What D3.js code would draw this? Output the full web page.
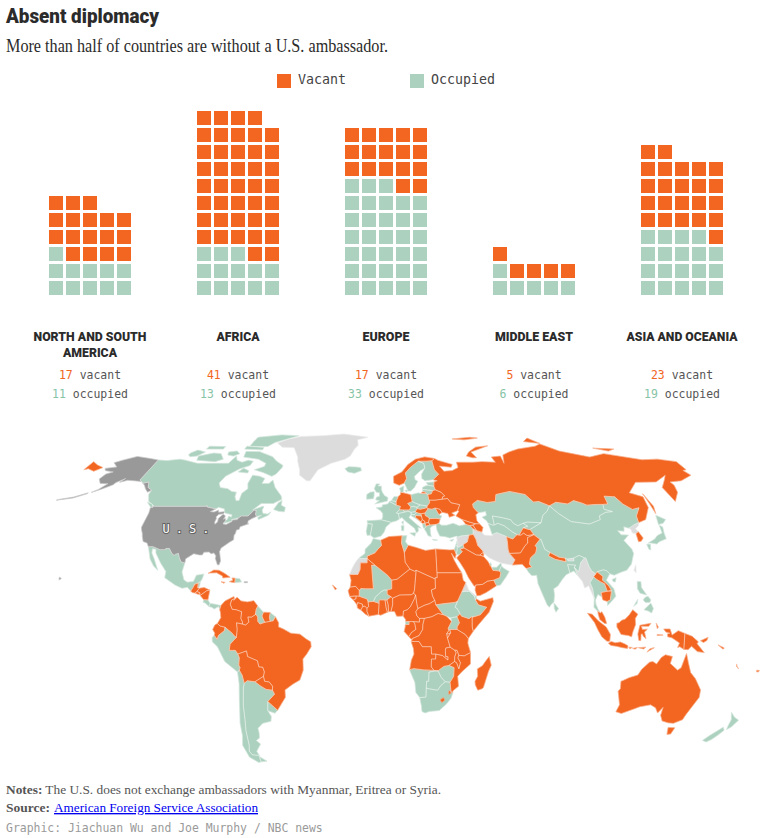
<!DOCTYPE html>
<html>
<head>
<meta charset="utf-8">
<title>Absent diplomacy</title>
<script src="https://cdn.jsdelivr.net/npm/d3@7"></script>
<style>
  html, body { margin: 0; background: #fff; }
  svg { display: block; }
</style>
</head>
<body>
<script>
// ---- Waffle data -------------------------------------------------------
const regions = [["NORTH AND SOUTH", "AMERICA"], ["AFRICA"], ["EUROPE"], ["MIDDLE EAST"], ["ASIA AND OCEANIA"]];
const vacantCounts = [17, 41, 17, 5, 23];
const occupiedCounts = [11, 13, 33, 6, 19];
const legendLabels = ["Vacant", "Occupied"];

// ---- Map data: outlines as [longitude, latitude] rings, by status ------
const vacantLands = [
  ["Cuba", [[-85,21.8],[-82.5,23.1],[-80,23],[-77,21.7],[-74.2,20.2],[-77.7,19.9],[-78,20.7],[-81,22],[-84,21.9]]],
  ["Jamaica", [[-78.3,18.4],[-76.3,18.1],[-77,17.8]]],
  ["Haiti", [[-74.4,18.4],[-71.7,18],[-71.7,19.8],[-73.3,19.9],[-72.7,19]]],
  ["Guatemala", [[-92.2,14.6],[-90.9,16.8],[-91,17.2],[-89.1,17.9],[-89.1,16],[-88.3,15.7],[-89.2,14.6],[-90.1,13.8],[-91.5,14]]],
  ["El Salvador", [[-90.1,13.8],[-89.2,14.4],[-87.8,13.9],[-87.8,13.2],[-89,13.4]]],
  ["Honduras", [[-89.2,14.6],[-88.3,15.7],[-86,16],[-83.2,15],[-84.7,14.7],[-87.3,13],[-87.8,13.2],[-87.8,13.9],[-89.2,14.4]]],
  ["Nicaragua", [[-87.3,13],[-84.7,14.7],[-83.2,15],[-83.7,11],[-85.7,11.1],[-87.6,12.9]]],
  ["Colombia", [[-77.4,8.7],[-75.6,10.6],[-74,11.3],[-71.5,12.4],[-71.2,11.5],[-72.5,11],[-73,9.2],[-72,7.2],[-70,7],[-67.5,6.2],[-67.8,3.5],[-67,2],[-67,1.2],[-69.8,1.7],[-69.5,-1],[-69.9,-4.2],[-70.7,-3.8],[-72,-2.4],[-75.2,-0.1],[-77.5,0.4],[-78.8,1.4],[-77.2,3.8],[-77.5,6],[-77.9,7.2]]],
  ["Venezuela", [[-71.2,11.5],[-71.5,10.8],[-70,12.1],[-68,10.6],[-65,10.2],[-62,10.7],[-60,8.5],[-60.7,7.2],[-61,5.2],[-60.7,5.2],[-62.8,4],[-64.5,4.1],[-64,2],[-65.5,0.8],[-67,1.2],[-67,2],[-67.8,3.5],[-67.5,6.2],[-70,7],[-72,7.2],[-73,9.2],[-72.5,11]]],
  ["Suriname", [[-57.2,6],[-54,5.9],[-54.4,4],[-54,2.3],[-56.5,1.9],[-57.3,3.3],[-57.9,4.5]]],
  ["Ecuador", [[-80,0.8],[-78.8,1.4],[-77.5,0.4],[-75.2,-0.1],[-75.5,-1.5],[-78.3,-3.4],[-79,-5],[-80.3,-3.4],[-80,-2.5],[-81,-1]]],
  ["Bolivia", [[-69.6,-11],[-65.4,-9.7],[-65,-12],[-60.5,-13.7],[-60,-16.2],[-58.2,-16.3],[-57.6,-18.2],[-58.2,-20],[-62.6,-22.2],[-64.5,-22],[-66.2,-21.8],[-67.8,-22.8],[-68.4,-19.5],[-69.5,-17.5],[-69,-16.5],[-69.5,-15.5],[-69,-12.5]]],
  ["Paraguay", [[-58.2,-20],[-57.9,-22],[-55.7,-22.3],[-54.3,-24],[-54.6,-25.6],[-57.6,-25.3],[-60,-24],[-62.6,-22.2]]],
  ["Brazil", [[-51.6,4.2],[-50,1.7],[-50,0],[-48,-0.7],[-44.3,-2.5],[-40,-2.9],[-37.2,-4.8],[-35,-6],[-34.8,-8],[-37,-11],[-38.9,-13],[-39,-17.5],[-40.9,-21.5],[-44.5,-23.2],[-48.5,-25.5],[-48.7,-28.5],[-52,-32.2],[-53.4,-33.7],[-57.6,-30.2],[-53.8,-27.2],[-54.6,-25.6],[-54.3,-24],[-55.7,-22.3],[-57.9,-22],[-58.2,-20],[-57.6,-18.2],[-58.2,-16.3],[-60,-16.2],[-60.5,-13.7],[-65,-12],[-65.4,-9.7],[-69.6,-11],[-70.6,-9.5],[-73.5,-9.5],[-73,-7],[-69.9,-4.2],[-69.5,-1],[-69.8,1.7],[-67,1.2],[-65.5,0.8],[-64,2],[-64.5,4.1],[-62.8,4],[-60.7,5.2],[-59.9,4],[-59.8,2.3],[-58.8,1.2],[-56.5,1.9],[-54,2.3],[-52.6,2.5]]],
  ["Algeria", [[-2.2,35.1],[2,36.6],[8.6,36.9],[8.2,34],[9.5,30.2],[9.8,26.2],[12,23.5],[5.8,19.4],[3.2,19],[1.2,21],[-4.8,25],[-8.7,27.7],[-8.7,28.7],[-5,30],[-3.5,31.5],[-1.7,33]]],
  ["Libya", [[11.5,33.1],[15,32.3],[20,31],[25,31.6],[25,22],[25,20],[24,20],[24,19.5],[15,23],[14.2,22.6],[12,23.5],[9.8,26.2],[9.5,30.2]]],
  ["Egypt", [[25,31.6],[32,31.2],[34.2,31.3],[34.9,29.5],[34.2,27.8],[32.6,29.9],[33.7,27],[35.5,24],[36.9,22],[25,22]]],
  ["Sudan", [[25,22],[36.9,22],[37.4,19],[38.6,18],[36.5,14.3],[34.3,10.5],[33,10],[28,9.5],[24,9],[23.5,10.8],[22.5,12.6],[22,15],[24,15.7],[24,20],[25,20]]],
  ["Somalia", [[43.1,11.5],[45,10.5],[51,11.9],[51.2,10.4],[49,6],[44,1],[41.5,-1.7],[41,0],[41,3.9],[42,4.2],[44.9,5],[47.9,8],[44,9],[42.8,10.9]]],
  ["Kenya", [[35.3,5.4],[36,4.4],[39.5,3.4],[40.8,4.2],[41,3.9],[41,0],[41.5,-1.7],[39.2,-4.7],[37.7,-3],[33.9,-1],[33.9,0.1],[35,1.7],[33.9,4.2]]],
  ["Tanzania", [[33.9,-1],[37.7,-3],[39.2,-4.7],[39,-6.5],[39.5,-8],[40.4,-10.4],[37.5,-11.7],[34.9,-11.5],[34,-9.5],[32.9,-9.4],[30.7,-8.2],[29.4,-4.5],[30.8,-2.4],[30.5,-1]]],
  ["Rwanda", [[29,-2.7],[30,-1.4],[30.5,-1],[30.8,-2.4],[29.7,-2.8]]],
  ["Burundi", [[29,-2.7],[29.7,-2.8],[30.8,-2.4],[29.4,-4.5]]],
  ["DR Congo", [[12.3,-5.9],[13.1,-4.6],[16,-3.5],[17.7,-1],[17.8,1],[18.5,3.5],[22,4.2],[25,5.5],[27.4,5],[29,4.4],[31.3,2.2],[29.7,-0.5],[30,-1.4],[29,-2.7],[29.4,-4.5],[30.7,-8.2],[28.7,-8.5],[28.5,-9.5],[28.7,-12],[29.8,-12.1],[29.8,-13.4],[27.2,-11.6],[24,-11],[22,-11],[21.8,-8],[17.6,-8],[16,-5.9]]],
  ["Angola", [[11.8,-17.3],[13.7,-16.9],[18.4,-17.4],[23.4,-17.6],[22,-16.2],[22,-13],[24,-13],[24,-11],[22,-11],[21.8,-8],[17.6,-8],[16,-5.9],[12.3,-5.9],[13.4,-8.7],[13.7,-11],[12.5,-13.5]]],
  ["Zambia", [[22,-13],[22,-16.2],[23.4,-17.6],[25.3,-17.8],[28,-16],[30.4,-15.6],[33,-14],[33,-12],[33.6,-10.5],[32.9,-9.4],[30.7,-8.2],[28.7,-8.5],[28.5,-9.5],[28.7,-12],[29.8,-12.1],[29.8,-13.4],[27.2,-11.6],[24,-11],[24,-13]]],
  ["Malawi", [[32.9,-9.4],[34,-9.5],[34.9,-11.5],[34.5,-12.5],[35.8,-14.5],[35.2,-17],[34,-14.5],[33,-14],[33,-12],[33.6,-10.5]]],
  ["Mozambique", [[40.4,-10.4],[40.6,-15],[36.9,-18],[34.8,-20],[35.5,-24],[32.9,-25.9],[32.9,-26.8],[32,-26],[31.9,-25.4],[31.3,-22.4],[32.9,-20],[32.9,-16.5],[30.4,-15.6],[33,-14],[34,-14.5],[35.2,-17],[35.8,-14.5],[34.5,-12.5],[34.9,-11.5],[37.5,-11.7]]],
  ["Lesotho", [[27,-29.6],[28.5,-28.6],[29.4,-29.6],[28,-30.6]]],
  ["Eswatini", [[31,-25.8],[32,-26],[32,-27],[31,-27.2]]],
  ["Congo", [[11.2,-3.9],[12.3,-5],[13.1,-4.6],[16,-3.5],[17.7,-1],[17.8,1],[18.5,3.5],[16.2,3.5],[16.2,2],[13.3,2.2],[14,1.3],[14.5,-1],[12.5,-2.2]]],
  ["Gabon", [[9.6,1],[11.3,1],[11.3,2.2],[13.3,2.2],[14,1.3],[14.5,-1],[12.5,-2.2],[11.2,-3.9],[9,-1.8],[9.5,0]]],
  ["Cameroon", [[8.5,4.5],[9.7,3],[9.7,2.2],[11.3,2.2],[13.3,2.2],[16.2,2],[16.2,3.5],[15,4.5],[14.5,6.2],[15.5,7.5],[15,9.5],[14.5,13],[13.9,11.5],[12,8.3],[10.5,7],[8.7,6.5]]],
  ["Central African Republic", [[14.5,6.2],[15,4.5],[16.2,3.5],[18.5,3.5],[22,4.2],[25,5.5],[27.4,5],[24,9],[23.5,10.8],[21,9.5],[18.5,8.8],[15.5,7.5]]],
  ["Chad", [[15.5,7.5],[18.5,8.8],[21,9.5],[23.5,10.8],[22.5,12.6],[22,15],[24,15.7],[24,19.5],[15,23],[14,15],[13.5,13.7],[14.5,13],[15,9.5]]],
  ["Niger", [[12,23.5],[14.2,22.6],[15,23],[14,15],[13.5,13.7],[12.5,13.1],[7,13],[3.6,11.7],[2.8,12.3],[1,13.3],[1,15],[3.2,15.5],[3.2,19],[5.8,19.4]]],
  ["Nigeria", [[2.8,6.3],[4.5,6.3],[5.5,4.4],[7,4.4],[8.5,4.5],[8.7,6.5],[10.5,7],[12,8.3],[13.9,11.5],[14.5,13],[13.5,13.7],[12.5,13.1],[7,13],[3.6,11.7],[3.6,9]]],
  ["Mauritania", [[-17,21.3],[-13,21.3],[-12,23.4],[-12,26],[-8.7,26],[-8.7,27.7],[-4.8,25],[-6.5,25],[-5.5,15.5],[-9.3,15.5],[-11.5,15.6],[-12.2,14.8],[-14,16.5],[-16.5,16.2],[-16.2,19]]],
  ["Senegal", [[-16.5,16.2],[-14,16.5],[-12.2,14.8],[-12.2,12.5],[-13.7,12.6],[-16.7,12.4],[-17.5,14.7]]],
  ["Guinea-Bissau", [[-16.7,12.4],[-13.7,12.6],[-13.7,11.5],[-15,11]]],
  ["Guinea", [[-13.7,12.6],[-12.2,12.5],[-11.3,12.2],[-8.5,11.4],[-8,10.2],[-7.7,8.4],[-8.5,7.6],[-9.5,8.5],[-10.5,8.3],[-10.7,9.3],[-12.9,9.9],[-13.2,9],[-15,11],[-13.7,11.5]]],
  ["Sierra Leone", [[-13.2,9],[-12.9,9.9],[-10.7,9.3],[-10.5,8.3],[-11.4,6.9],[-13,7.7]]],
  ["Liberia", [[-11.4,6.9],[-10.5,8.3],[-9.5,8.5],[-8.5,7.6],[-8.5,6.3],[-7.6,4.4],[-9.2,5.2]]],
  ["Cote d'Ivoire", [[-8.5,7.6],[-7.7,8.4],[-8,10.2],[-5.5,10.4],[-2.8,9.6],[-3.1,5.1],[-7.6,4.4],[-8.5,6.3]]],
  ["Ghana", [[-2.8,11],[0,11],[0.5,8],[1.1,6],[-2,4.8],[-3.1,5.1],[-2.8,9.6]]],
  ["Togo", [[0,11],[0.9,11],[1.5,9],[1.7,6.2],[1.1,6],[0.5,8]]],
  ["Benin", [[0.9,11],[2.8,12.3],[3.6,11.7],[3.6,9],[2.8,6.3],[1.7,6.2],[1.5,9]]],
  ["Madagascar", [[49.3,-12],[50.5,-15.5],[49.4,-18],[47.6,-24.5],[47,-25],[45,-25.6],[43.6,-23.5],[43.3,-22],[44.4,-20],[44,-17],[46.3,-15.7],[48,-13.5]]],
  ["Cabo Verde", [[-25,17],[-23,15.6],[-23.6,15]]],
  ["Germany", [[7.1,53],[8.5,54],[8.7,55],[10,54.8],[14.2,53.9],[14.7,51],[12.2,50.2],[13.7,48.7],[13,47.5],[9.6,47.5],[7.6,47.6],[8.2,49],[6,49.5],[6,51]]],
  ["Norway", [[5,59],[5,62],[10,64],[14,67.5],[19,70],[25,71.1],[31,70.3],[29,69.2],[25.5,69],[20.5,69],[15.5,66.2],[12,63.5],[12.5,61],[11,59],[8,58]]],
  ["Belarus", [[23.7,52],[23.5,54],[25.5,54.3],[26.5,55.7],[28,56],[31,55],[32.7,53.4],[31.5,53],[31,52],[27,51.6],[24,51.6]]],
  ["Ukraine", [[24,50.5],[24,51.6],[27,51.6],[31,52],[34,52.3],[35.5,50.5],[40,49.7],[38.3,47.2],[35,46.2],[36.5,45.3],[33.5,44.5],[33,46],[30.7,46.4],[30,46.5],[29,47.8],[26.6,48.3],[24.9,47.8],[22.9,48],[22.2,48.4],[22.5,49.1]]],
  ["Moldova", [[26.6,48.3],[29,47.8],[30,46.5],[28.2,45.5]]],
  ["Hungary", [[16,46.8],[17,48],[18.8,47.8],[22.2,48.4],[22.9,48],[21,46.2],[18.8,45.9],[16.5,46.4]]],
  ["Bosnia", [[16,45.2],[19,45],[19.3,43.5],[18.5,42.5],[15.8,44.5]]],
  ["Serbia", [[18.8,45.9],[21,46.2],[21,45.2],[22.5,44.5],[23,43.9],[22.4,42.4],[20.5,42],[20.5,42.8],[19.3,43.5],[19,45]]],
  ["Montenegro", [[18.5,42.5],[19.3,43.5],[20.5,42.8],[20.5,42],[19.3,41.9]]],
  ["North Macedonia", [[20.5,42],[22.4,42.4],[23,41.3],[21,40.8]]],
  ["Bulgaria", [[23,43.9],[26.5,44],[28.6,43.8],[27.7,42],[26.2,41.5],[23,41.3],[22.4,42.4]]],
  ["Georgia", [[40,43.5],[43.5,42.5],[46.5,41.8],[45,41.3],[43.5,41],[41.5,41.5]]],
  ["Armenia", [[43.5,41],[45,41.3],[46.5,39],[44.8,39.7]]],
  ["Azerbaijan", [[46.5,41.8],[48.5,41.8],[50,40.3],[49,38.4],[46.5,39],[45,41.3]]],
  ["Russia", [[31,70.3],[33,69.4],[41,67.5],[40,66.2],[33,66.7],[35,64.3],[40,64.6],[44,66],[44,68.5],[54,68.5],[60,68.8],[68,68.5],[67,71],[73,71.5],[73,68],[75,72],[80,73.5],[87,75],[100,76.5],[104.5,77.7],[113,74],[129,71],[140,72.7],[160,69.7],[170,70],[179.9,68.8],[179.9,65],[177.5,64.7],[179,62.5],[170,60],[163,59.5],[163.5,58],[162,55],[156.7,51],[155.7,57],[161,60.5],[164,62.5],[155,59.5],[143,59.3],[135,54.7],[141,53],[140,48.5],[135,43.5],[130.7,42.3],[130.7,43],[131.2,45],[135,48.4],[131,47.7],[127.5,50],[125.5,53],[120,53.3],[119.5,50],[116.7,49.8],[113,49.8],[108,49.5],[106,50.3],[102,51.4],[98,50],[92,50.7],[87.8,49.2],[83,51],[80,50.8],[77,54],[71,55],[69,55.3],[61,54],[59.5,51],[55,50.6],[50,51.5],[47,50],[47,48.5],[49,46.3],[47.5,45.5],[47.5,43],[48.5,41.8],[46.5,41.8],[43.5,42.5],[40,43.5],[37,45],[39,47],[38.3,47.2],[40,49.7],[35.5,50.5],[34,52.3],[31,52],[31.5,53],[32.7,53.4],[31,55],[28,56],[27.5,57.6],[28,59.5],[30,60],[27.7,60.5],[31.5,62.9],[29.5,65],[29,69.2]]],
  ["Chukotka", [[-179.9,65],[-178,65.5],[-173,64.3],[-170,66],[-175,67.2],[-179.9,68.8]]],
  ["Kaliningrad", [[19.7,54.4],[22.8,54.4],[22.5,55],[21,55.2]]],
  ["Sakhalin", [[142,54.3],[143.2,49],[142,46],[142,50]]],
  ["Novaya Zemlya", [[51.5,71.5],[55,70.7],[57.5,70.7],[55.5,73.5],[68.5,76.7],[60,76],[54,73.5]]],
  ["Franz Josef Land", [[47,80.5],[60,81.5],[65,81],[55,80]]],
  ["Severnaya Zemlya", [[95,79],[105,78],[100,81]]],
  ["New Siberian Islands", [[137,75.5],[150,75],[145,74]]],
  ["Iraq", [[42.3,37.2],[44.5,37.5],[45.5,35.5],[46,33],[48,31],[48.5,29.9],[47.7,30],[46.5,29.1],[44.7,29.2],[39,32],[38.8,33.4],[41,34.4]]],
  ["Kuwait", [[47.7,30],[48.5,29.9],[48.2,28.6],[46.5,29.1]]],
  ["Saudi Arabia", [[36.5,29.3],[38,30.5],[37,31.5],[39,32],[44.7,29.2],[46.5,29.1],[48.2,28.6],[50,26.6],[51.2,24.6],[52,23],[55,22.7],[55.7,22],[55,20],[52,19],[49,18.6],[46.5,17.3],[43.2,17],[42.5,16.5],[40,20],[38.5,23],[36.5,26],[35,28]]],
  ["Yemen", [[43.2,17],[46.5,17.3],[49,18.6],[52,19],[53.1,16.7],[48,14],[45,12.8],[43.5,12.7],[42.8,15]]],
  ["Tajikistan", [[67.5,37.2],[70.5,40.2],[73,39.5],[73.8,39.5],[75,37.4],[71.5,37],[70,38],[68.5,37.2]]],
  ["Afghanistan", [[61,34.5],[61,36.6],[64,35.6],[66.5,37.4],[67.5,37.2],[68.5,37.2],[70,38],[71.5,37],[75,37.4],[71.5,36.2],[71,34],[69.5,33],[66.5,30],[61,29.8],[60.7,31.5]]],
  ["Pakistan", [[61,29.8],[66.5,30],[69.5,33],[71,34],[71.5,36.2],[75,37.4],[77.5,35.5],[74.5,33],[75,32],[74,30],[71,28],[70,25.5],[71,24.3],[68.2,23.7],[66.5,25.4],[61.6,25.1],[63.3,27.2]]],
  ["Nepal", [[80,28.8],[81,30.2],[85,28.3],[88,27.9],[88,26.4],[83,27.4]]],
  ["South Korea", [[126.7,37.8],[128.3,38.6],[129.4,36],[127.8,34.7],[126.4,34.5],[126.6,37]]],
  ["Laos", [[101.2,21.5],[102,22.4],[104.5,20.5],[104,19],[106.5,16.8],[107.5,15],[105.5,14.5],[104.7,17.5],[103,18.3],[101,19.5],[100,20.4]]],
  ["Cambodia", [[102.5,14],[105.5,14.5],[107.5,14.5],[106.5,11],[105,10.4],[103,11],[102.7,12.2]]],
  ["Peninsular Malaysia", [[100.2,6.4],[101.5,5.8],[102.1,6.2],[103.4,4],[104.2,1.4],[103.3,1.4],[101,3],[100.4,5]]],
  ["Sumatra", [[95.3,5.6],[97.5,5.2],[100.3,2.5],[104,0],[106,-3],[105.8,-5.8],[104.5,-5.8],[102,-4],[100,-1],[98.5,1.8]]],
  ["Java", [[105.2,-6.6],[106.5,-5.9],[108.5,-6.4],[110.8,-6.1],[112.8,-6.8],[114.5,-7.6],[114.4,-8.7],[112,-8.4],[109,-7.8],[106.5,-7.5]]],
  ["Bali and Lombok", [[115,-8.2],[116.6,-8.3],[115.5,-8.8]]],
  ["Borneo", [[109,1.5],[110,1.7],[111.3,2.7],[113,3.2],[115,5],[116.7,7],[119,5.2],[117.7,3.5],[117.8,1],[116.5,-2],[116,-4],[114.5,-3.5],[111,-3],[110,-1.5],[109,0]]],
  ["Sulawesi", [[119.8,0.7],[125,1.5],[124,0.3],[120.5,0.3],[121,-1],[123.3,-0.9],[122,-2],[122.8,-4.8],[121.5,-3.8],[121,-2.8],[120.4,-2.9],[120.4,-5.5],[119.5,-5.5],[118.9,-2.8]]],
  ["Western New Guinea", [[131,-0.8],[134,-0.8],[135,-3.3],[137.9,-1.5],[141,-2.6],[141,-9.1],[139,-8],[138,-8.3],[138.7,-6.5],[135,-4.4],[133,-4],[132.8,-2.8],[134,-2.5],[132,-2]]],
  ["Papua New Guinea", [[141,-2.6],[144.5,-3.8],[147.5,-6],[147,-6.8],[150.8,-10.4],[147.5,-10],[144.5,-7.8],[143,-9.2],[141,-9.1]]],
  ["New Britain", [[148.5,-5.6],[152,-4.2],[151.5,-5.5],[150,-6.3]]],
  ["Solomon Islands", [[157,-7.3],[160,-8.5],[159.5,-9]]],
  ["Timor", [[123.7,-10.2],[127,-8.4],[125,-8.8]]],
  ["Flores", [[119.5,-8.4],[123,-8.2],[122,-8.9]]],
  ["Sumbawa", [[116.8,-8.7],[119,-8.3],[118,-9]]],
  ["Halmahera", [[127.5,1.5],[128.5,0],[128,-0.7]]],
  ["Seram", [[128,-3],[130.8,-3.3],[128,-3.5]]],
  ["Vanuatu", [[167,-15],[167.5,-16],[168.5,-17],[167.2,-16]]],
  ["Fiji", [[177.3,-17.5],[178.6,-17.7],[178.2,-18.3],[177.3,-18.1]]],
  ["Australia", [[113.5,-22],[114.2,-21.8],[117,-20.6],[121,-19.5],[122.3,-17.2],[125.5,-14.3],[127,-14],[129,-15],[130.8,-12.4],[132.6,-11.3],[136,-12],[135.5,-14.8],[139.5,-17.5],[141,-16.5],[142.5,-10.8],[144,-14.5],[146,-18.5],[149,-21],[153,-25.5],[153.6,-28.5],[150.5,-35.5],[150,-37.5],[146.3,-39],[143.5,-38.8],[140,-38],[138,-35.7],[137.7,-32.5],[136,-34.8],[134,-32.7],[131,-31.5],[126,-32.3],[124,-33],[118,-35],[115,-34.3],[115.7,-31.5],[113.2,-26],[114,-25]]],
  ["Tasmania", [[144.7,-40.7],[148.2,-40.8],[147.8,-43.3],[146,-43.5]]]
];

const occupiedLands = [
  ["Canada", [[-141,69.6],[-135,69.3],[-128,70],[-124,69.5],[-115,68],[-108,68],[-100,68],[-96,68],[-94,71.5],[-92,69.5],[-88,68.5],[-85,69.5],[-81.5,69],[-82,67],[-87,65.5],[-93,62],[-94.5,59],[-92.5,57],[-88,56.5],[-85,55.3],[-82.3,55],[-82,53],[-80.5,51.3],[-79,51.5],[-79,54.5],[-76.7,56.5],[-78,58.8],[-77.5,62.5],[-73,62],[-69.5,61],[-70,58.8],[-66,58.8],[-64.5,60.3],[-61.7,57],[-57,53.5],[-56,52],[-60,50.2],[-66.5,50.2],[-70,47.5],[-65,49],[-64.5,48.8],[-65,47.5],[-64,46],[-61.5,45.8],[-60,46.7],[-61,45.3],[-65.5,43.6],[-66.2,44.3],[-64.5,45.3],[-67,44.8],[-67.8,45.7],[-68,47.3],[-69.2,47.4],[-70.3,46.2],[-71.5,45],[-75,45],[-76.2,44.2],[-79.5,43.6],[-79,42.9],[-83,42],[-82.4,43],[-81.7,43.5],[-81.5,45],[-80,44.5],[-80,45.5],[-84,46.2],[-84.8,47],[-85,47.9],[-88.5,48.6],[-89.6,48],[-92,48.3],[-94.6,48.7],[-95.2,49.4],[-95.2,49],[-123,49],[-125,50],[-127.5,51],[-130,54],[-130,55.9],[-133,57],[-135,59.5],[-137.5,58.9],[-141,60.3]]],
  ["Baffin Island", [[-62,66],[-64,63],[-66,62],[-72,63.7],[-78,65],[-73,66.5],[-73,68],[-79,70],[-89,71],[-90,73.8],[-81,73.7],[-77,72.7],[-71,71.2],[-67,69],[-62,67]]],
  ["Victoria Island", [[-117,69.5],[-105,68.8],[-101,70],[-105,72.7],[-110,73],[-118,71.5]]],
  ["Banks Island", [[-125,72],[-123,71.2],[-119,71.5],[-116,73.5],[-122,74.5],[-125,73]]],
  ["Ellesmere Island", [[-90,76.5],[-78,76.3],[-75,78.5],[-65,81.5],[-62,82.5],[-75,83],[-90,81.5],[-90,79]]],
  ["Devon Island", [[-92,75],[-80,74.6],[-80,75.8],[-92,76.5]]],
  ["Melville Island", [[-117,75],[-106,75],[-106,76.3],[-117,76.5]]],
  ["Prince of Wales Island", [[-100,72],[-96,71.5],[-93,72.7],[-96,74],[-101,73.5]]],
  ["Southampton Island", [[-87,64],[-81,63.5],[-81,64.5],[-85,65.7]]],
  ["Newfoundland", [[-59,47.7],[-56,46.9],[-53,46.7],[-53,48.5],[-55.5,49.5],[-55.7,51.5],[-57.3,50.5]]],
  ["Vancouver Island", [[-128,50.7],[-125,50],[-123.4,48.4],[-125,48.8]]],
  ["Iceland", [[-24,65.5],[-22,64],[-18,63.4],[-14,64.6],[-14.7,66],[-18,66.3],[-22,66.4]]],
  ["Mexico", [[-117.1,32.5],[-114.8,32.5],[-111,31.3],[-108.2,31.3],[-108.2,31.8],[-106.5,31.8],[-104.5,29.7],[-103.2,29],[-102.8,29.4],[-101.4,29.8],[-100.5,28.2],[-99.2,26.4],[-97.2,25.9],[-97.7,22.3],[-96.2,19.2],[-94.5,18.2],[-91.5,18.5],[-90.5,21],[-87,21.5],[-87.5,19.5],[-88.2,18.4],[-89.1,17.9],[-91,17.2],[-90.9,16.8],[-92.2,14.6],[-94,16.1],[-96.5,15.7],[-100,17],[-105.5,20],[-105.5,22.5],[-109,26],[-112.5,30],[-113,31.5],[-114.8,31.7],[-114.5,30],[-112.5,27.5],[-110.5,24.5],[-109.5,23],[-112,24.7],[-114.5,27.5],[-116,30.5]]],
  ["Belize", [[-89.1,17.9],[-88.2,18.4],[-88.3,16.5],[-89.1,16]]],
  ["Costa Rica", [[-85.7,11.1],[-83.7,11],[-82.6,9.6],[-83,8.3],[-85,9.8],[-85.9,10]]],
  ["Panama", [[-83,8.3],[-82.6,9.6],[-80,9.2],[-77.4,8.7],[-77.9,7.2],[-78.5,8.3],[-80.5,7.3],[-81.7,8]]],
  ["Dominican Republic", [[-71.7,18],[-68.5,18.3],[-69.5,19.6],[-71.7,19.8]]],
  ["Guyana", [[-60,8.5],[-57.2,6],[-57.9,4.5],[-57.3,3.3],[-56.5,1.9],[-58.8,1.2],[-59.8,2.3],[-59.9,4],[-60.7,5.2],[-61,5.2],[-60.7,7.2]]],
  ["French Guiana", [[-54,5.9],[-51.6,4.2],[-52.6,2.5],[-54,2.3],[-54.4,4]]],
  ["Peru", [[-80.3,-3.4],[-79,-5],[-78.3,-3.4],[-75.5,-1.5],[-75.2,-0.1],[-72,-2.4],[-70.7,-3.8],[-69.9,-4.2],[-73,-7],[-73.5,-9.5],[-70.6,-9.5],[-69.6,-11],[-69,-12.5],[-69.5,-15.5],[-69,-16.5],[-69.5,-17.5],[-70.4,-18.3],[-76,-14],[-79,-8],[-81.3,-6],[-81.3,-4.3]]],
  ["Chile", [[-70.4,-18.3],[-69.5,-17.5],[-68.4,-19.5],[-67.8,-22.8],[-68.5,-24.5],[-70,-32],[-70.5,-37],[-71.5,-42],[-72,-48],[-73,-50.5],[-72,-52],[-68.4,-52.3],[-68.6,-55],[-70,-55.3],[-74,-53],[-75.5,-48],[-74,-44],[-73.5,-39],[-71.5,-30],[-70.3,-23]]],
  ["Argentina", [[-66.2,-21.8],[-64.5,-22],[-62.6,-22.2],[-60,-24],[-57.6,-25.3],[-54.6,-25.6],[-53.8,-27.2],[-57.6,-30.2],[-58.3,-33.9],[-57,-36.2],[-57.7,-38.2],[-62,-39],[-65,-41],[-65,-43],[-65.5,-45],[-67.5,-46],[-65.8,-47.5],[-69,-50.5],[-68.4,-52.3],[-72,-52],[-73,-50.5],[-72,-48],[-71.5,-42],[-70.5,-37],[-70,-32],[-68.5,-24.5],[-67.8,-22.8]]],
  ["Tierra del Fuego", [[-68.6,-52.7],[-65.2,-54.7],[-68.6,-55]]],
  ["Uruguay", [[-57.6,-30.2],[-53.4,-33.7],[-54.9,-34.9],[-58.3,-33.9]]],
  ["Morocco", [[-5.9,35.8],[-2.2,35.1],[-1.7,33],[-3.5,31.5],[-5,30],[-8.7,28.7],[-8.7,27.7],[-13,27.7],[-9.8,29.8],[-9.8,31.5],[-7,33.8]]],
  ["Tunisia", [[8.6,36.9],[11,37],[10.2,34.5],[11.5,33.1],[9.5,30.2],[8.2,34]]],
  ["Ethiopia", [[36.5,14.3],[37.5,14.4],[40,14.5],[42.3,12.5],[42.8,10.9],[44,9],[47.9,8],[44.9,5],[42,4.2],[40.8,4.2],[39.5,3.4],[36,4.4],[35.3,5.4],[34,7.5],[33,8],[34.3,10.5]]],
  ["Djibouti", [[42.3,12.5],[43.3,12.5],[43.1,11.5],[42.8,10.9]]],
  ["South Sudan", [[24,9],[28,9.5],[33,10],[34.3,10.5],[33,8],[34,7.5],[35.3,5.4],[33.9,4.2],[31,3.7],[29,4.4],[27.4,5]]],
  ["Uganda", [[31,3.7],[33.9,4.2],[35,1.7],[33.9,0.1],[33.9,-1],[30.5,-1],[30,-1.4],[29.7,-0.5],[31.3,2.2]]],
  ["Zimbabwe", [[25.3,-17.8],[28,-16],[30.4,-15.6],[32.9,-16.5],[32.9,-20],[31.3,-22.4],[29,-22.2],[27,-20.5]]],
  ["Botswana", [[21,-18.3],[23.4,-17.9],[25.3,-17.8],[27,-20.5],[29,-22.2],[27,-23.7],[25.5,-25.6],[23,-25.3],[20,-24.8],[20,-22],[21,-22]]],
  ["Namibia", [[11.8,-17.3],[13.7,-16.9],[18.4,-17.4],[23.4,-17.6],[25.3,-17.8],[23.4,-17.9],[21,-18.3],[21,-22],[20,-22],[20,-28.4],[17,-28.6],[15,-26.5],[14.4,-22.5],[12,-18]]],
  ["South Africa", [[17,-28.6],[20,-28.4],[20,-24.8],[23,-25.3],[25.5,-25.6],[27,-23.7],[29,-22.2],[31.3,-22.4],[31.9,-25.4],[32,-26],[32.9,-26.8],[32.4,-28.7],[30.5,-31],[27,-33.8],[22,-34.2],[20,-34.8],[18.4,-34.2],[18,-32]]],
  ["Equatorial Guinea", [[9.7,2.2],[11.3,2.2],[11.3,1],[9.6,1]]],
  ["Mali", [[-12.2,14.8],[-11.5,15.6],[-9.3,15.5],[-5.5,15.5],[-6.5,25],[-4.8,25],[1.2,21],[3.2,19],[3.2,15.5],[1,15],[-0.5,15],[-2,14.2],[-4.5,12.2],[-5.5,10.4],[-8,10.2],[-8.5,11.4],[-11.3,12.2],[-12.2,12.5]]],
  ["Burkina Faso", [[-5.5,10.4],[-4.5,12.2],[-2,14.2],[-0.5,15],[1,15],[1,13.3],[2.8,12.3],[0.9,11],[-2.8,11],[-2.8,9.6]]],
  ["Portugal", [[-8.9,41.9],[-6.5,41.7],[-7,39],[-7.4,37.2],[-9,37],[-9.5,38.8]]],
  ["Spain", [[-9.3,43],[-1.8,43.4],[3.2,42.4],[0.5,40.5],[-0.4,38.5],[-2,36.8],[-5.5,36],[-7.4,37.2],[-7,39],[-6.5,41.7],[-8.9,41.9]]],
  ["France", [[-1.8,43.4],[3.2,42.4],[6,43],[7.5,43.8],[7,46],[6,46.2],[7.6,47.6],[8.2,49],[6,49.5],[4.8,50],[2.5,51],[1.5,50],[-1.5,49.6],[-1.5,48.7],[-4.7,48.4],[-2.5,47.3],[-1.2,46],[-1.2,44.5]]],
  ["Belgium", [[2.5,51],[4.8,50],[6,49.5],[6,51],[3.5,51.4]]],
  ["Netherlands", [[3.5,51.4],[6,51],[7.1,53],[5,53.2]]],
  ["Switzerland", [[6,46.2],[7,46],[10.4,46.6],[9.6,47.5],[7.6,47.6]]],
  ["Italy", [[7.5,43.8],[8.8,44.4],[10.5,42.9],[15,40],[16,38],[17,39],[16.8,40.3],[18.5,40],[15.8,41.9],[12.4,44.4],[13.7,45.7],[13.7,46.5],[12,47],[10.4,46.6],[7,46]]],
  ["Sicily", [[12.5,38],[15.5,38.2],[15,36.7]]],
  ["Sardinia", [[8.3,41],[9.7,41],[9.5,39],[8.5,39]]],
  ["Corsica", [[8.6,42.5],[9.5,43],[9.3,41.5]]],
  ["Austria", [[9.6,47.5],[10.4,46.6],[12,47],[13.7,46.5],[16,46.8],[17,48],[17,48.6],[15,49],[13.7,48.7],[13,47.5]]],
  ["Czechia", [[12.2,50.2],[14.7,51],[16.5,50.3],[18.8,49.6],[17,48.6],[15,49],[13.7,48.7]]],
  ["Slovakia", [[17,48.6],[18.8,49.6],[22.5,49.1],[22.2,48.4],[18.8,47.8],[17,48]]],
  ["Poland", [[14.2,53.9],[18.5,54.7],[19.7,54.4],[22.8,54.4],[23.5,54],[23.7,52],[24,51.6],[24,50.5],[22.5,49.1],[18.8,49.6],[16.5,50.3],[14.7,51]]],
  ["Denmark", [[8.7,55],[8.2,56.7],[10.6,57.7],[10.3,56],[10,54.8]]],
  ["Zealand", [[11,55.7],[12.5,56],[12.2,55]]],
  ["Sweden", [[11,59],[12.5,61],[12,63.5],[15.5,66.2],[20.5,69],[23.7,68],[24,65.8],[21,64.5],[17.2,62],[17.3,60.5],[18.8,59.8],[16.5,57],[14.3,55.5],[12.8,55.5]]],
  ["Finland", [[20.5,69],[25.5,69],[29,69.2],[29.5,65],[31.5,62.9],[27.7,60.5],[23,60],[21.3,61],[21.5,63],[24,65.8],[23.7,68]]],
  ["Estonia", [[23.5,59.2],[28,59.5],[27.5,57.6],[24.4,58],[24.2,58.3]]],
  ["Latvia", [[21,57],[22.6,57.7],[24.4,58],[27.5,57.6],[28,56],[26.5,55.7],[21,56.2]]],
  ["Lithuania", [[21,56.2],[26.5,55.7],[25.5,54.3],[23.5,54],[22.8,54.4],[22.5,55],[21,55.2]]],
  ["Romania", [[22.9,48],[24.9,47.8],[26.6,48.3],[28.2,45.5],[29.7,45],[28.6,43.8],[26.5,44],[23,43.9],[22.5,44.5],[21,45.2],[21,46.2]]],
  ["Slovenia", [[13.7,45.7],[13.7,46.5],[16,46.8],[16.5,46.4],[15.4,45.5]]],
  ["Croatia", [[13.7,45.7],[15.4,45.5],[16.5,46.4],[18.8,45.9],[19,45],[16,45.2],[15.8,44.5],[18.5,42.5],[15,44.5],[13.9,44.9]]],
  ["Albania", [[19.3,41.9],[20.5,42],[21,40.8],[20,39.7],[19.4,40.5]]],
  ["Greece", [[20,39.7],[21,40.8],[23,41.3],[26.2,41.5],[24,40.8],[23,40],[23,38],[23.2,36.5],[21.6,37],[21,38.3]]],
  ["Crete", [[23.6,35.5],[26.3,35.2],[24.5,35]]],
  ["Turkey", [[26.2,41.5],[27.7,42],[29,41.2],[31.5,41.2],[35,42],[38,41],[41.5,41.5],[43.5,41],[44.8,39.7],[44.5,37.5],[42.3,37.2],[38,36.8],[36.5,36.3],[36,36.8],[32.5,36],[30.5,36.5],[27.5,36.8],[26.3,39.5]]],
  ["Cyprus", [[32.3,35],[34.5,35.6],[33.5,34.7]]],
  ["United Kingdom", [[-5.5,50],[1.3,51.2],[1.6,52.7],[-0.2,53.5],[-1.5,55],[-2,56],[-2,57.6],[-4,57.7],[-3,58.6],[-5,58.6],[-6,56.5],[-4.8,55],[-3,54.8],[-3,53.3],[-4.7,52.8],[-5,51.7],[-3,51.4]]],
  ["Ireland", [[-10,52],[-6.3,52.2],[-6,53.5],[-6,55.2],[-8.2,55],[-10,54]]],
  ["Israel", [[34.2,31.3],[35,33],[35.8,32.7],[35.5,31],[34.9,29.5]]],
  ["Lebanon", [[35,33],[36,34.8],[35.8,32.7]]],
  ["Jordan", [[34.9,29.5],[35.5,31],[35.8,32.7],[36.5,32.3],[38.8,33.4],[39,32],[37,31.5],[38,30.5],[36.5,29.3]]],
  ["Oman", [[55,20],[55.7,22],[55,22.7],[56.4,24.9],[57,24],[59.8,22.5],[58,20.3],[55,17],[53.1,16.7],[52,19]]],
  ["United Arab Emirates", [[51.6,24.2],[52,23],[55,22.7],[56.4,24.9],[56.3,26],[54,24.2]]],
  ["Qatar", [[50.8,24.7],[51.6,25],[51.3,26.1],[50.8,25.5]]],
  ["Turkmenistan", [[53,42],[53.5,40],[54,37.4],[56.5,38.2],[61,36.6],[64,35.6],[66.5,37.4],[64.5,38.5],[61,41],[58,42],[56,41.3],[55,41.3]]],
  ["Uzbekistan", [[56,41.3],[56,45],[61,44.3],[65,43.5],[66,42],[68,41],[71,42],[73,40.8],[70.5,40.2],[67.5,37.2],[66.5,37.4],[64.5,38.5],[61,41],[58,42]]],
  ["Kazakhstan", [[47,50],[50,51.5],[55,50.6],[59.5,51],[61,54],[69,55.3],[71,55],[77,54],[80,50.8],[83,51],[87.8,49.2],[85.5,47],[82.5,45.3],[80.3,42.2],[73.5,42.5],[71,42],[68,41],[66,42],[65,43.5],[61,44.3],[56,45],[56,41.3],[55,41.3],[53,42],[52.5,43],[50.5,44.5],[53,45.3],[53,46.8],[49,46.3],[47,48.5]]],
  ["Kyrgyzstan", [[70.5,40.2],[73,40.8],[71,42],[73.5,42.5],[80.3,42.2],[73.8,39.5],[73,39.5]]],
  ["China", [[73.8,39.5],[80.3,42.2],[82.5,45.3],[85.5,47],[87.8,49.2],[91,46],[96,42.7],[105,41.7],[111.5,43.5],[111.8,45],[116,46.5],[119.8,46.8],[116,47.8],[116.7,49.8],[119.5,50],[120,53.3],[125.5,53],[127.5,50],[131,47.7],[135,48.4],[131.2,45],[130.7,43],[130.7,42.3],[128,41.5],[124.3,40],[122,40.6],[121.2,38.8],[118,39],[119,37.3],[122.6,37.2],[119.3,35],[121.8,31.5],[122,29.8],[119.5,25.5],[116.5,23],[113.5,22.2],[110,21],[108,21.6],[106.7,22.8],[105.3,23.2],[102,22.4],[101.2,21.5],[99.5,22.8],[98.7,24.5],[98,28],[97.4,28],[95,29],[92,27.9],[89,27.5],[88,27.9],[85,28.3],[81,30.2],[78.8,31.5],[78,35.5],[77.5,35.5],[75,37.4]]],
  ["Hainan", [[108.7,19.3],[110.7,20],[110,18.3],[109,18.4]]],
  ["Mongolia", [[87.8,49.2],[92,50.7],[98,50],[102,51.4],[106,50.3],[108,49.5],[113,49.8],[116.7,49.8],[116,47.8],[119.8,46.8],[116,46.5],[111.8,45],[111.5,43.5],[105,41.7],[96,42.7],[91,46]]],
  ["Honshu", [[131,34],[135,35.6],[137,37],[140,38],[140.5,41.2],[141.8,40.5],[141,38],[140.8,35.7],[137,34.6],[135,33.6],[132.5,34]]],
  ["Hokkaido", [[140.3,41.5],[141.5,45.3],[145.3,43.5],[143,42]]],
  ["Kyushu", [[130,33.5],[131.8,33.5],[131,31.2],[130.2,31.5]]],
  ["India", [[68.2,23.7],[71,24.3],[70,25.5],[71,28],[74,30],[75,32],[74.5,33],[77.5,35.5],[78,35.5],[78.8,31.5],[81,30.2],[80,28.8],[83,27.4],[88,26.4],[88,27.9],[89,27.5],[89,26.8],[92,26.8],[92,27.9],[95,29],[97.4,28],[95,26],[93.2,22.3],[91.5,24.2],[92.3,25.1],[88.5,25.3],[88.9,22],[87,21.2],[85,19.5],[82.3,16.6],[80.2,15.5],[80.3,13],[79.8,10.3],[78.2,8.9],[77.5,8],[76.5,9],[74.8,13],[73,17.5],[72.8,21],[70.5,20.8],[69,22.3]]],
  ["Bangladesh", [[88.5,25.3],[92.3,25.1],[91.5,24.2],[92.5,20.8],[91,22.7],[88.9,22]]],
  ["Sri Lanka", [[79.8,9.7],[81.8,7.5],[80.5,6],[79.8,7.5]]],
  ["Thailand", [[100,20.4],[101,19.5],[103,18.3],[104.7,17.5],[105.5,14.5],[102.5,14],[102.7,12.2],[100.9,13.2],[99.5,11],[99.5,9.3],[100.5,7],[101.5,5.8],[100.2,6.4],[98.5,8],[99,11.5],[98.7,15.5],[97.8,18]]],
  ["Vietnam", [[102,22.4],[105.3,23.2],[106.7,22.8],[108,21.6],[105.8,19],[108.8,15.5],[109.3,12.5],[107,10.4],[105,8.7],[105,10.4],[106.5,11],[107.5,14.5],[107.5,15],[106.5,16.8],[104,19],[104.5,20.5]]],
  ["Luzon", [[120.5,18.5],[122.2,18.4],[122,16],[124,13],[121,13.7],[120,15.5]]],
  ["Mindanao", [[122,7],[125.5,9.7],[126.5,7.5],[125.5,5.7],[124,6.5]]],
  ["Visayas", [[124.5,12.5],[125.7,11],[125,10],[123,10],[122,11],[123,12]]],
  ["Palawan", [[117.3,8.4],[119.5,11.3],[119,9.5]]],
  ["New Zealand North Island", [[172.7,-34.5],[175.5,-36.5],[178.4,-37.7],[176.8,-40.5],[175.2,-41.5],[174.8,-39.8],[174.6,-37.5]]],
  ["New Zealand South Island", [[172.8,-40.6],[174.2,-41.8],[172.8,-43.7],[171,-45.5],[169,-46.6],[166.5,-46],[168.5,-44]]]
];

const unrelatedLands = [
  ["Greenland", [[-73,78.2],[-68,76],[-60,75.7],[-55,71],[-54,69],[-51,65],[-50,62.5],[-45,60],[-43,60],[-40,65],[-33,68],[-25,70],[-22,71.5],[-20,75],[-18,77],[-19,80],[-12,81.5],[-30,83.6],[-45,82.5],[-60,82],[-67,80.5]]],
  ["Western Sahara", [[-13,27.7],[-8.7,27.7],[-8.7,26],[-12,26],[-12,23.4],[-13,21.3],[-17,21.3],[-16,23.5],[-14.5,26]]],
  ["Eritrea", [[38.6,18],[39.8,15],[43,12.7],[42.3,12.5],[40,14.5],[37.5,14.4],[36.5,14.3]]],
  ["Syria", [[36,36.8],[36.5,36.3],[38,36.8],[42.3,37.2],[41,34.4],[38.8,33.4],[36.5,32.3],[35.8,32.7],[36,34.8]]],
  ["Iran", [[44.8,39.7],[46.5,39],[49,38.4],[50,37.2],[54,36.9],[54,37.4],[56.5,38.2],[61,36.6],[61,34.5],[60.7,31.5],[61,29.8],[63.3,27.2],[61.6,25.1],[57,25.8],[54,26.7],[51,28],[48.5,29.9],[48,31],[46,33],[45.5,35.5],[44.5,37.5]]],
  ["North Korea", [[130.7,42.3],[129.7,41],[127.5,39.8],[128.3,38.6],[126.7,37.8],[125,38],[125,39.6],[124.3,40],[128,41.5]]],
  ["Taiwan", [[120,23],[121.5,25.2],[120.8,22]]],
  ["Bhutan", [[89,27.5],[92,27.9],[92,26.8],[89,26.8]]],
  ["Myanmar", [[92.5,20.8],[91.5,24.2],[93.2,22.3],[95,26],[97.4,28],[98,28],[98.7,24.5],[99.5,22.8],[101.2,21.5],[100,20.4],[97.8,18],[98.7,15.5],[99,11.5],[98,14],[97,16.7],[95,15.8],[94.3,18.5]]]
];

const homeLands = [
  ["Contiguous United States", [[-124.7,48.4],[-123,49],[-95.2,49],[-95.2,49.4],[-94.6,48.7],[-92,48.3],[-89.6,48],[-92,46.8],[-90,46.6],[-88,47.4],[-87.5,46.5],[-85,46.7],[-84.4,46.5],[-84.7,45.9],[-87,45.7],[-88,44.6],[-87.5,44],[-87.8,42.5],[-87.3,41.6],[-86.3,42.5],[-86.5,44],[-85.5,45],[-84.7,45.7],[-83.4,45.1],[-83.4,44],[-83.9,43.7],[-82.9,44],[-82.4,43],[-83.1,42.1],[-83.2,41.7],[-81.5,41.5],[-79,42.7],[-79,43.3],[-76.5,43.5],[-76.2,44.2],[-75,45],[-71.5,45],[-70.3,46.2],[-69.2,47.4],[-68,47.3],[-67.8,45.7],[-67,44.8],[-69,44],[-70.7,43],[-70.6,41.9],[-70,41.8],[-71,41.5],[-74,40.6],[-74.2,39.5],[-75.5,39.3],[-75.5,38],[-76,37],[-75.7,35.3],[-77.5,34.3],[-79,33.3],[-81,32],[-81.4,30.5],[-80.5,28.2],[-80,26.8],[-80.4,25.2],[-81.2,25.2],[-81.8,26.2],[-82.8,27.8],[-82.7,28.8],[-84,30],[-85.3,29.7],[-86.5,30.4],[-89,30.3],[-89.5,29.2],[-91,29.2],[-93.8,29.7],[-95,29],[-97.2,27.6],[-97.2,25.9],[-99.2,26.4],[-100.5,28.2],[-101.4,29.8],[-102.8,29.4],[-103.2,29],[-104.5,29.7],[-106.5,31.8],[-108.2,31.8],[-108.2,31.3],[-111,31.3],[-114.8,32.5],[-117.1,32.5],[-118.4,34],[-120.6,34.6],[-121.9,36.6],[-122.5,37.8],[-123.8,39.5],[-124.3,40.4],[-124.1,43],[-124,46.2]]],
  ["Alaska", [[-141,69.6],[-141,60.3],[-137.5,58.9],[-135,59.5],[-133,57],[-130,55.9],[-131.5,55],[-134,56.5],[-136,58],[-139.5,59.7],[-144,60],[-148,60.2],[-151.5,59.3],[-150,61],[-153.5,59.2],[-154,58.2],[-158,56.5],[-162.5,54.9],[-160,56.2],[-157.5,58.7],[-162,58.8],[-165,60.8],[-164,63],[-161,64],[-166.5,64.6],[-168,65.6],[-162,66.3],[-166.5,68.3],[-163,69.5],[-156.5,71.3],[-148,70.4]]],
  ["Aleutian Islands", [[-164,54.7],[-170,52.9],[-177,51.9],[-178,51.6],[-170,52.5],[-164,54.4]]],
  ["Hawaii", [[-156,20.2],[-155,19.8],[-155.7,19],[-156,19.6]]],
  ["Puerto Rico", [[-67.2,18.4],[-65.7,18.4],[-65.7,18],[-67.2,18]]]
];

// ---- Colours and fonts -------------------------------------------------
const VACANT = "#f26622";
const OCCUPIED = "#add1bf";
const OCCUPIED_TEXT = "#87c4a6";
const HOME = "#999999";
const UNRELATED = "#dcdcdc";
const INK = "#2a2a2a";
const MONO = "'DejaVu Sans Mono', 'Liberation Mono', monospace";
const SERIF = "'Liberation Serif', serif";
const GROTESK = "Roboto, 'Liberation Sans', sans-serif";

const svg = d3.select("body").append("svg")
  .attr("width", 776).attr("height", 838)
  .attr("viewBox", "0 0 776 838");

function label(parent, str, x, y, size, family, opts = {}) {
  const t = parent.append("text")
    .attr("x", x).attr("y", y)
    .attr("font-size", size).attr("font-family", family)
    .attr("font-weight", opts.weight || 400)
    .attr("fill", opts.fill || INK)
    .attr("text-anchor", opts.anchor || "start")
    .text(str);
  if (opts.length) t.attr("textLength", opts.length).attr("lengthAdjust", "spacingAndGlyphs");
  return t;
}

// ---- Heading -----------------------------------------------------------
label(svg, "Absent diplomacy", 6, 23, 20, GROTESK, { weight: 900, length: 153, fill: "#2b2b2b" });
label(svg, "More than half of countries are without a U.S. ambassador.", 6, 52, 18, SERIF, { length: 382, fill: "#2b2b2b" });

// ---- Legend ------------------------------------------------------------
const legendX = d3.scaleOrdinal().domain(legendLabels).range([277, 410]);
const legendColor = d3.scaleOrdinal().domain(legendLabels).range([VACANT, OCCUPIED]);
const legend = svg.append("g").selectAll("g").data(legendLabels).join("g")
  .attr("transform", d => `translate(${legendX(d)},74)`);
legend.append("rect").attr("width", 14).attr("height", 14).attr("fill", d => legendColor(d));
legend.append("text").attr("x", 21).attr("y", 10)
  .attr("font-family", MONO).attr("font-size", 13.3).attr("fill", "#444")
  .text(d => d);

// ---- Waffle columns ----------------------------------------------------
const PER_ROW = 5, CELL = 14;
const regionIndex = d3.range(regions.length);
const regionCenter = d3.scalePoint().domain(regionIndex).range([90, 682]);
const cellX = d3.scaleLinear().domain([0, PER_ROW - 1]).range([-41, 27]);
const cellY = d3.scaleLinear().domain([0, 1]).range([281, 264]);

const waffle = svg.append("g").selectAll("g").data(regionIndex).join("g")
  .attr("transform", i => `translate(${regionCenter(i)},0)`);

waffle.selectAll("rect")
  .data(i => d3.range(vacantCounts[i] + occupiedCounts[i]).map(n => ({
    n, occupied: n < occupiedCounts[i]
  })))
  .join("rect")
  .attr("x", d => cellX(d.n % PER_ROW))
  .attr("y", d => cellY(Math.floor(d.n / PER_ROW)))
  .attr("width", CELL).attr("height", CELL)
  .attr("fill", d => d.occupied ? OCCUPIED : VACANT);

// Region names, then the two counts beneath them.
const nameWidths = [[113, 54], [43], [47], [78], [111]];
waffle.each(function (i) {
  const g = d3.select(this);
  regions[i].forEach((line, k) => {
    label(g, line, 0, 341 + k * 16, 13.5, GROTESK, { weight: 900, anchor: "middle", length: nameWidths[i][k], fill: "#2b2b2b" });
  });
  const rows = [
    [vacantCounts[i], " vacant", VACANT, 379],
    [occupiedCounts[i], " occupied", OCCUPIED_TEXT, 398]
  ];
  rows.forEach(([count, word, color, y]) => {
    const t = g.append("text").attr("y", y).attr("text-anchor", "middle")
      .attr("font-family", MONO).attr("font-size", 11.46).attr("fill", "#555")
      .attr("xml:space", "preserve");
    t.append("tspan").attr("fill", color).text(count);
    t.append("tspan").text(word);
  });
});

// ---- World map ---------------------------------------------------------
const projection = d3.geoNaturalEarth1().scale(140).translate([385, 627]);
const outline = d3.line().x(d => projection(d)[0]).y(d => projection(d)[1])
  .curve(d3.curveLinearClosed);

const layers = [
  [unrelatedLands, UNRELATED],
  [occupiedLands, OCCUPIED],
  [vacantLands, VACANT],
  [homeLands, HOME]
];

const map = svg.append("g");
layers.forEach(([lands, color]) => {
  map.append("g").selectAll("path").data(lands).join("path")
    .attr("d", d => outline(d[1]))
    .attr("fill", color).attr("stroke", color).attr("stroke-width", 0.5)
    .attr("stroke-linejoin", "round");
});
const borders = svg.append("g").attr("fill", "none")
  .attr("stroke", "#fff").attr("stroke-opacity", 0.5).attr("stroke-width", 0.6);
layers.forEach(([lands]) => {
  borders.append("g").selectAll("path").data(lands).join("path")
    .attr("d", d => outline(d[1]));
});

svg.append("text")
  .attr("x", 189).attr("y", 533).attr("text-anchor", "middle")
  .attr("font-family", MONO).attr("font-size", 12)
  .attr("letter-spacing", 6)
  .attr("fill", "#fff").attr("stroke", "#555").attr("stroke-width", 2)
  .attr("paint-order", "stroke").attr("stroke-opacity", 0.8)
  .text("U.S.");

// ---- Footnotes ---------------------------------------------------------
const notes = label(svg, "", 6, 794, 13.5, SERIF, { fill: "#555" });
notes.append("tspan").attr("font-weight", 700).text("Notes:");
notes.append("tspan").attr("dx", 3).text("The U.S. does not exchange ambassadors with Myanmar, Eritrea or Syria.");
notes.attr("textLength", 435).attr("lengthAdjust", "spacingAndGlyphs");

label(svg, "Source:", 6, 812, 13.5, SERIF, { weight: 700, fill: "#555", length: 44 });
svg.append("a").attr("href", "https://afsa.org/")
  .append("text").attr("x", 54).attr("y", 812)
  .attr("font-family", SERIF).attr("font-size", 13.5).attr("fill", "#0000ee")
  .attr("text-decoration", "underline")
  .attr("textLength", 204).attr("lengthAdjust", "spacingAndGlyphs")
  .text("American Foreign Service Association");

label(svg, "Graphic: Jiachuan Wu and Joe Murphy / NBC news", 6, 832, 11.45, MONO, { fill: "#9a9a9a" });
</script>
</body>
</html>
